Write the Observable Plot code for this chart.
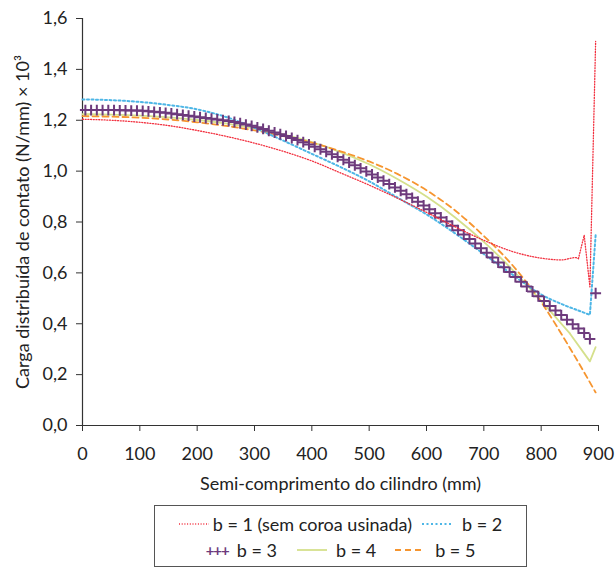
<!DOCTYPE html>
<html>
<head>
<meta charset="utf-8">
<script src="https://cdn.jsdelivr.net/npm/d3@7"></script>
<script src="https://cdn.jsdelivr.net/npm/@observablehq/plot@0.6"></script>
<style>
  body { margin: 0; background: #fff; font-family: Lato, "Open Sans", sans-serif; color: #222; }
  #chart svg { display: block; }
  .legend {
    box-sizing: border-box;
    margin-left: 154px;
    margin-top: 5px;
    width: 373px;
    height: 62px;
    border: 1px solid #555;
    padding-top: 5px;
    font-size: 18px;
  }
  .legend .row { display: flex; justify-content: center; align-items: center; height: 26px; white-space: nowrap; }
  .legend svg { display: inline-block; }
  .legend .item { display: flex; align-items: center; }
</style>
</head>
<body>
<div id="chart"></div>
<div class="legend" id="legend"></div>
<script>
// Axis ticks
const xTicks = [0, 100, 200, 300, 400, 500, 600, 700, 800, 900];
const yTicks = [0, 0.2, 0.4, 0.6, 0.8, 1.0, 1.2, 1.4, 1.6];

// b = 1 (sem coroa usinada): posição (mm) e carga (N/mm × 10³)
const xB1 = [0, 50, 100, 150, 200, 250, 300, 350, 400, 450, 500, 550, 600, 650, 700, 750, 800, 835, 860, 865, 875, 885, 895];
const yB1 = [1.204, 1.200, 1.192, 1.179, 1.160, 1.137, 1.110, 1.078, 1.040, 0.993, 0.945, 0.893, 0.838, 0.781, 0.728, 0.684, 0.658, 0.651, 0.660, 0.656, 0.748, 0.545, 1.510];

// b = 2
const xB2 = [0, 50, 100, 150, 200, 250, 300, 350, 400, 450, 500, 550, 600, 650, 700, 750, 800, 835, 865, 885, 895];
const yB2 = [1.282, 1.279, 1.272, 1.260, 1.243, 1.213, 1.170, 1.120, 1.068, 1.016, 0.960, 0.895, 0.830, 0.755, 0.674, 0.593, 0.515, 0.478, 0.452, 0.435, 0.748];

// b = 3 (um marcador por elemento, a cada 10 mm)
const xB3 = [5, 15, 25, 35, 45, 55, 65, 75, 85, 95, 105, 115, 125, 135, 145, 155, 165, 175, 185, 195,
  205, 215, 225, 235, 245, 255, 265, 275, 285, 295, 305, 315, 325, 335, 345, 355, 365, 375, 385, 395,
  405, 415, 425, 435, 445, 455, 465, 475, 485, 495, 505, 515, 525, 535, 545, 555, 565, 575, 585, 595,
  605, 615, 625, 635, 645, 655, 665, 675, 685, 695, 705, 715, 725, 735, 745, 755, 765, 775, 785, 795,
  805, 815, 825, 835, 845, 855, 865, 875, 885, 895];
const yB3 = [1.240, 1.240, 1.240, 1.240, 1.240, 1.240, 1.239, 1.239, 1.238, 1.238, 1.237, 1.235, 1.233, 1.231, 1.229, 1.227, 1.224, 1.221, 1.218, 1.215,
  1.212, 1.209, 1.206, 1.203, 1.200, 1.197, 1.193, 1.188, 1.183, 1.178, 1.172, 1.166, 1.159, 1.152, 1.145, 1.138, 1.130, 1.122, 1.114, 1.105,
  1.096, 1.086, 1.076, 1.066, 1.056, 1.045, 1.034, 1.023, 1.011, 0.999, 0.987, 0.975, 0.962, 0.949, 0.936, 0.923, 0.909, 0.895, 0.880, 0.865,
  0.850, 0.834, 0.818, 0.802, 0.785, 0.768, 0.751, 0.733, 0.715, 0.697, 0.679, 0.660, 0.641, 0.622, 0.603, 0.584, 0.565, 0.546, 0.527, 0.508,
  0.489, 0.470, 0.452, 0.434, 0.416, 0.398, 0.381, 0.364, 0.340, 0.520];

// b = 4
const xB4 = [0, 50, 100, 150, 200, 250, 300, 350, 400, 450, 500, 550, 600, 650, 700, 750, 800, 850, 885, 895];
const yB4 = [1.224, 1.222, 1.218, 1.211, 1.201, 1.188, 1.168, 1.144, 1.114, 1.075, 1.027, 0.968, 0.900, 0.818, 0.722, 0.612, 0.490, 0.362, 0.252, 0.308];

// b = 5
const xB5 = [0, 50, 100, 150, 200, 250, 300, 350, 400, 450, 500, 550, 600, 650, 700, 750, 800, 850, 895];
const yB5 = [1.216, 1.214, 1.210, 1.203, 1.192, 1.178, 1.160, 1.138, 1.112, 1.078, 1.038, 0.988, 0.925, 0.845, 0.745, 0.630, 0.485, 0.305, 0.130];

const names = ["b = 1 (sem coroa usinada)", "b = 2", "b = 3", "b = 4", "b = 5"];
const colors = ["#f2303f", "#4db6e6", "#6d3a7c", "#d5e08c", "#f6952f"];

const toRows = (xs, ys) => xs.map((x, i) => ({x, y: ys[i]}));
const b1 = toRows(xB1, yB1);
const b2 = toRows(xB2, yB2);
const b3 = toRows(xB3, yB3);
const b4 = toRows(xB4, yB4);
const b5 = toRows(xB5, yB5);

// Smooth body of each curve, with the edge-of-contact segment drawn straight
const body = (rows, xEnd) => rows.filter(d => d.x <= xEnd);
const edge = (rows, xStart) => rows.filter(d => d.x >= xStart);

const fmt = d => d.toFixed(1).replace(".", ",");

const styled = (i, extra) => ({x: "x", y: "y", stroke: colors[i], ...extra});
const st1 = {strokeWidth: 1.3, strokeDasharray: "1,1.7"};
const st2 = {strokeWidth: 2, strokeDasharray: "2,2.5"};
const st4 = {strokeWidth: 1.8};
const st5 = {strokeWidth: 1.8, strokeDasharray: "6,4"};

const chart = Plot.plot({
  width: 616,
  height: 500,
  marginLeft: 82,
  marginRight: 18,
  marginTop: 18,
  marginBottom: 75,
  style: {fontFamily: "Lato, 'Open Sans', sans-serif", fontSize: "18px", color: "#222", background: "#fff"},
  x: {domain: [0, 900]},
  y: {domain: [0, 1.6]},
  marks: [
    Plot.axisY(yTicks, {tickSize: 6, tickPadding: 9, tickFormat: fmt, fontSize: 18, stroke: "#333",
      label: "Carga distribuída de contato (N/mm) × 10³", labelAnchor: "center", labelArrow: "none", labelOffset: 66}),
    Plot.axisX(xTicks, {tickSize: 6, tickPadding: 16, tickFormat: d => String(d), fontSize: 18, stroke: "#333",
      label: "Semi-comprimento do cilindro (mm)", labelAnchor: "center", labelArrow: "none", labelOffset: 64}),
    Plot.ruleX([0], {stroke: "#333", strokeWidth: 1.2}),
    Plot.ruleY([0], {stroke: "#333", strokeWidth: 1.2}),
    Plot.line(body(b4, 850), styled(3, {...st4, curve: "monotone-x"})),
    Plot.line(edge(b4, 850), styled(3, {...st4, curve: "linear"})),
    Plot.line(b5, styled(4, {...st5, curve: "monotone-x"})),
    Plot.line(body(b2, 865), styled(1, {...st2, curve: "monotone-x"})),
    Plot.line(edge(b2, 865), styled(1, {...st2, curve: "linear"})),
    Plot.dot(b3, {x: "x", y: "y", symbol: "plus", r: 3.6, stroke: colors[2], strokeWidth: 2, fill: "none"}),
    Plot.line(body(b1, 865), styled(0, {...st1, curve: "monotone-x"})),
    Plot.line(edge(b1, 865), styled(0, {...st1, curve: "linear"}))
  ]
});
document.getElementById("chart").append(chart);

// Legend below the plot
const sample = (color, dash, width) => {
  const w = 30;
  return `<svg width="${w}" height="10"><line x1="0" y1="5" x2="${w}" y2="5" stroke="${color}" stroke-width="${width}" ${dash ? `stroke-dasharray="${dash}"` : ""}/></svg>`;
};
const legend = document.getElementById("legend");
legend.innerHTML = `
  <div class="row">
    <span class="item">${sample(colors[0], "1,1.7", 1.3)}<span style="margin-left:4px">${names[0]}</span></span>
    <span class="item" style="margin-left:10px">${sample(colors[1], "2,2.5", 2)}<span style="margin-left:10px">${names[1]}</span></span>
  </div>
  <div class="row">
    <span class="item"><span style="color:${colors[2]};font-size:15px;font-weight:bold;letter-spacing:-1px">+++</span><span style="margin-left:8px">${names[2]}</span></span>
    <span class="item" style="margin-left:20px">${sample(colors[3], null, 1.8)}<span style="margin-left:9px">${names[3]}</span></span>
    <span class="item" style="margin-left:19px">${sample(colors[4], "6,4", 1.8)}<span style="margin-left:10px">${names[4]}</span></span>
  </div>`;
</script>
</body>
</html>
